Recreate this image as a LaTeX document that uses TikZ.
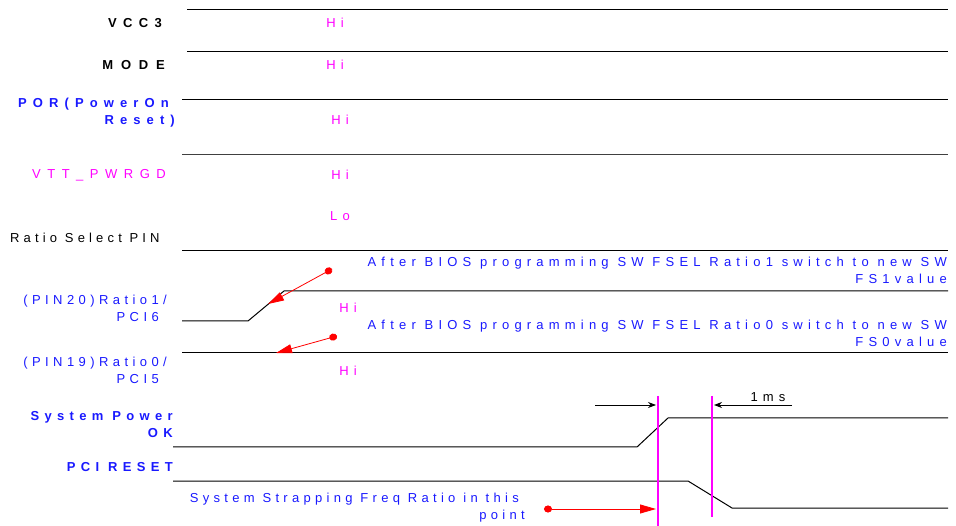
\documentclass[tikz,border=0pt]{standalone}
\usepackage{fontspec}
\setmainfont{Liberation Sans}
\usetikzlibrary{arrows.meta}
\definecolor{mag}{RGB}{255,0,255}
\definecolor{lblue}{RGB}{25,25,255}
\definecolor{rred}{RGB}{255,0,0}
\tikzset{
  sig/.style={draw=black, line width=1pt},
  ft/.style={font=\fontsize{13}{17}\selectfont\addfontfeatures{LetterSpace=#1}},
  bft/.style={font=\bfseries\fontsize{13}{17}\selectfont\addfontfeatures{LetterSpace=#1}},
  txt/.style={inner sep=0pt, ft=40},
  rlab/.style={txt, anchor=east, align=right},
  blab/.style={rlab, text=lblue, bft=40},
  klab/.style={rlab, text=black, bft=40},
  lev/.style={txt, text=mag},
  redarr/.style={draw=rred, line width=0.8pt, {Circle[length=8pt,width=7pt]}-{Triangle[length=16pt,width=9pt]}},
  blkarr/.style={draw=black, line width=0.8pt, -{Stealth[length=8pt,width=6pt]}},
  mline/.style={draw=mag, line width=1.2pt}
}
\begin{document}
\begin{tikzpicture}[x=1pt,y=-1pt]
\useasboundingbox (0,0) rectangle (956,526);
% signal lines
\draw[sig] (187,10) -- (948,10);
\draw[sig] (187,52) -- (948,52);
\draw[sig] (182,100) -- (948,100);
\draw[sig, draw=black!75] (182,155) -- (948,155);
\draw[sig] (182,251) -- (948,251);
\draw[sig] (182,321) -- (248,321) -- (284,291) -- (948,291);
\draw[sig] (182,353) -- (948,353);
\draw[sig] (173,447) -- (637,447) -- (668,418) -- (948,418);
\draw[sig] (173,481) -- (688,481) -- (732,508) -- (948,508);
% labels
\node[klab, bft=49] (vcc) at (162,23) {VCC3};
\node[klab, bft=60] (mode) at (165,65) {MODE};
\node[blab, bft=47] (por) at (175,113) {POR(PowerOn\hspace*{6pt}\\Reset)};
\node[rlab, text=mag, ft=50] (vtt) at (166,175) {VTT\_PWRGD};
\node[txt, anchor=west, ft=32] (rsp) at (10,238) {Ratio Select PIN};
\node[rlab, text=lblue, ft=34] (p20) at (167,308) {(PIN20)Ratio1/\\PCI6\hspace*{8pt}};
\node[rlab, text=lblue, ft=34] (p19) at (167,370) {(PIN19)Ratio0/\\PCI5\hspace*{8pt}};
\node[blab, bft=41] (spok) at (173,425) {System Power\\OK};
\node[blab, bft=41] (pcir) at (173,467) {PCI RESET};
% levels
\node[lev] (h1) at (335,23) {Hi};
\node[lev] (h2) at (335,65) {Hi};
\node[lev] (h3) at (340,120) {Hi};
\node[lev] (h4) at (340,175) {Hi};
\node[lev] (l5) at (340,216) {Lo};
\node[lev] (h6) at (348,308) {Hi};
\node[lev] (h7) at (348,371) {Hi};
% notes
\node[rlab, text=lblue, ft=40] (n1) at (947,270) {After BIOS programming SW FSEL Ratio1 switch to new SW\\FS1value};
\node[rlab, text=lblue, ft=40] (n2) at (947,333) {After BIOS programming SW FSEL Ratio0 switch to new SW\\FS0value};
\node[rlab, text=lblue, ft=33] (n3) at (525,508) {System Strapping Freq Ratio in this\hspace*{6pt}\\point};
\node[txt] (ms) at (768,397) {1ms};
% red arrows
\coordinate (a1s) at (332,269); \coordinate (a1e) at (268,304);
\coordinate (a2s) at (337,336); \coordinate (a2e) at (276,353);
\coordinate (a3s) at (544,509); \coordinate (a3e) at (656,509);
\draw[redarr] (a1s) -- (a1e);
\draw[redarr] (a2s) -- (a2e);
\draw[redarr] (a3s) -- (a3e);
% magenta markers
\coordinate (m1t) at (658,396); \coordinate (m1b) at (658,526);
\coordinate (m2t) at (712,396); \coordinate (m2b) at (712,517);
\draw[mline] (m1t) -- (m1b);
\draw[mline] (m2t) -- (m2b);
% 1ms arrows
\coordinate (b1s) at (595,405); \coordinate (b1e) at (656,405);
\coordinate (b2s) at (792,405); \coordinate (b2e) at (714,405);
\draw[blkarr] (b1s) -- (b1e);
\draw[blkarr] (b2s) -- (b2e);
\end{tikzpicture}
\end{document}
